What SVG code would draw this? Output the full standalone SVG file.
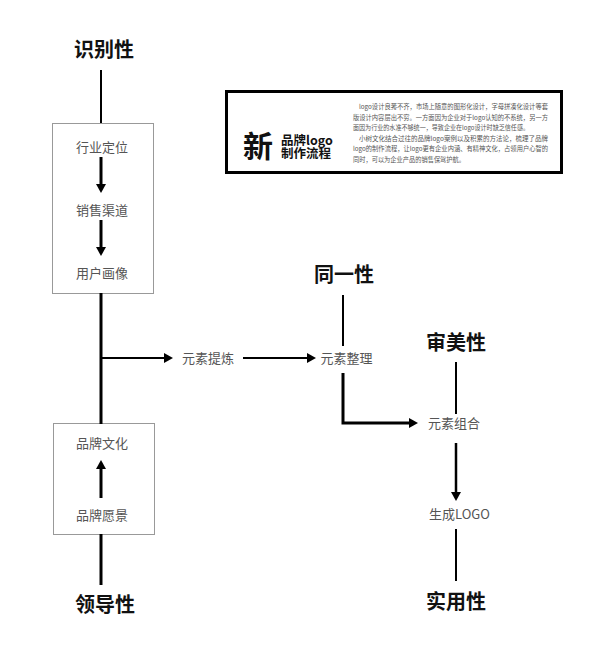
<svg xmlns="http://www.w3.org/2000/svg" width="592" height="652" viewBox="0 0 592 652">
<style>
.title{font-family:"Noto Sans CJK SC","Liberation Sans",sans-serif;font-weight:700;font-size:20px;fill:#111;text-anchor:middle}
.lbl{font-family:"Noto Sans CJK SC","Liberation Sans",sans-serif;font-weight:400;font-size:13px;fill:#555;text-anchor:middle}
.box{fill:#fff;stroke:#999;stroke-width:1}
.ln{fill:none;stroke:#000}
.par{font-family:"Noto Sans CJK SC","Liberation Sans",sans-serif;font-size:6.5px;fill:#555}
.sub{font-family:"Noto Sans CJK SC","Liberation Sans",sans-serif;font-weight:700;font-size:12.5px;fill:#111}
</style>
<defs>
<marker id="ah" viewBox="0 0 9 10" markerWidth="9" markerHeight="10" refX="0" refY="5" orient="auto" markerUnits="userSpaceOnUse">
<path d="M0,0 L9,5 L0,10 z" fill="#000"/>
</marker>
</defs>
<rect width="592" height="652" fill="#fff"/>

<g id="intro">
<rect x="226.5" y="91.5" width="335" height="81" fill="#fff" stroke="#000" stroke-width="3"/>
<text x="258" y="157" font-family="Noto Sans CJK SC,sans-serif" font-weight="700" font-size="30" fill="#111" text-anchor="middle">新</text>
<text class="sub"><tspan x="281" y="145">品牌logo</tspan><tspan x="281" y="157.5">制作流程</tspan></text>
<text class="par" x="359" y="108.5" textLength="189" lengthAdjust="spacingAndGlyphs">logo设计良莠不齐，市场上随意的图形化设计，字母拼凑化设计等套</text>
<text class="par" x="353" y="119.5" textLength="195" lengthAdjust="spacingAndGlyphs">版设计内容层出不穷。一方面因为企业对于logo认知的不系统，另一方</text>
<text class="par" x="353" y="130" textLength="176" lengthAdjust="spacingAndGlyphs">面因为行业的水准不够统一，导致企业在logo设计时缺乏信任感。</text>
<text class="par" x="359" y="140.5" textLength="189" lengthAdjust="spacingAndGlyphs">小树文化结合过往的品牌logo案例以及积累的方法论，梳理了品牌</text>
<text class="par" x="353" y="151" textLength="195" lengthAdjust="spacingAndGlyphs">logo的制作流程，让logo更有企业内涵、有精神文化，占领用户心智的</text>
<text class="par" x="353" y="162" textLength="112" lengthAdjust="spacingAndGlyphs">同时，可以为企业产品的销售保驾护航。</text>
</g>

<g id="box-top"><rect class="box" x="52.5" y="123.5" width="101" height="170"/></g>
<g id="box-bottom"><rect class="box" x="53.5" y="423.5" width="101" height="111"/></g>

<g id="connectors">
<line class="ln" x1="101" y1="70" x2="101" y2="123" stroke-width="2"/>
<line class="ln" x1="101" y1="157" x2="101" y2="184" stroke-width="3" marker-end="url(#ah)"/>
<line class="ln" x1="101" y1="220" x2="101" y2="247" stroke-width="3" marker-end="url(#ah)"/>
<line class="ln" x1="101" y1="293" x2="101" y2="424" stroke-width="3"/>
<line class="ln" x1="101" y1="358" x2="164" y2="358" stroke-width="2" marker-end="url(#ah)"/>
<line class="ln" x1="243" y1="358" x2="307" y2="358" stroke-width="2" marker-end="url(#ah)"/>
<line class="ln" x1="343" y1="295" x2="343" y2="346" stroke-width="2"/>
<path class="ln" d="M343,373 V423 H409" stroke-width="3" marker-end="url(#ah)"/>
<line class="ln" x1="456" y1="362" x2="456" y2="414" stroke-width="2"/>
<line class="ln" x1="456" y1="443" x2="456" y2="492" stroke-width="2.5" marker-end="url(#ah)"/>
<line class="ln" x1="456" y1="529" x2="456" y2="581" stroke-width="2"/>
<line class="ln" x1="101" y1="498" x2="101" y2="469" stroke-width="3" marker-end="url(#ah)"/>
<line class="ln" x1="101" y1="534" x2="101" y2="585" stroke-width="3"/>
</g>

<g id="t-shibie"><text class="title" x="104" y="57">识别性</text></g>
<g id="t-lingdao"><text class="title" x="105" y="612">领导性</text></g>
<g id="t-tongyi"><text class="title" x="344" y="282">同一性</text></g>
<g id="t-shenmei"><text class="title" x="456" y="350">审美性</text></g>
<g id="t-shiyong"><text class="title" x="456" y="609">实用性</text></g>

<g id="n-hangye"><text class="lbl" x="102" y="151.5">行业定位</text></g>
<g id="n-xiaoshou"><text class="lbl" x="102" y="214.5">销售渠道</text></g>
<g id="n-yonghu"><text class="lbl" x="102" y="277.5">用户画像</text></g>
<g id="n-tilian"><text class="lbl" x="208" y="362.5">元素提炼</text></g>
<g id="n-zhengli"><text class="lbl" x="346.5" y="362.5">元素整理</text></g>
<g id="n-zuhe"><text class="lbl" x="454" y="427.5">元素组合</text></g>
<g id="n-logo"><text class="lbl" x="459.5" y="518.5">生成LOGO</text></g>
<g id="n-wenhua"><text class="lbl" x="102" y="447.5">品牌文化</text></g>
<g id="n-yuanjing"><text class="lbl" x="102" y="519.5">品牌愿景</text></g>
</svg>
